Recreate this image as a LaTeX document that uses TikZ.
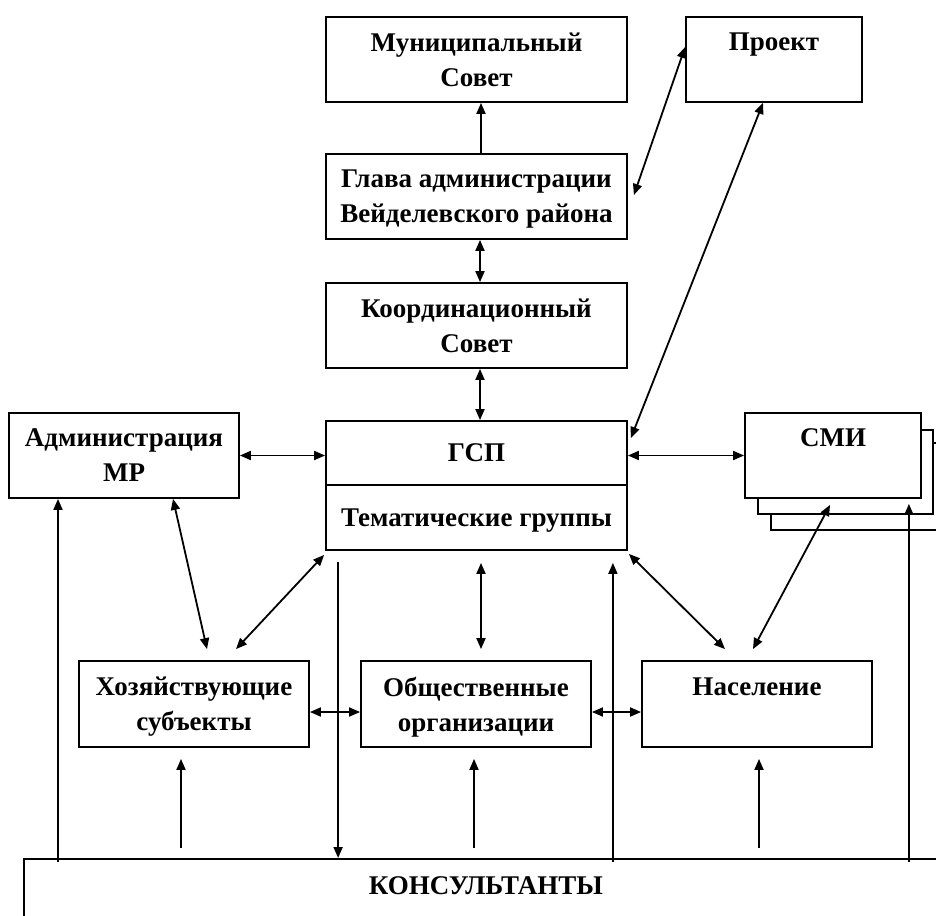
\documentclass[tikz,border=0pt]{standalone}
\usepackage{fontspec}
\setmainfont{Liberation Serif}
\usetikzlibrary{arrows.meta}
\begin{document}
\begin{tikzpicture}[x=1pt,y=-1pt,
  box/.style={draw, line width=1.8pt, fill=white, inner sep=0pt, align=center, text depth=0pt,
    font=\bfseries\fontsize{27}{35}\selectfont},
  back/.style={draw, line width=1.8pt, fill=white},
  con/.style={line width=1.8pt, -{Triangle[length=11pt,width=9pt]}},
  dcon/.style={line width=1.8pt, {Triangle[length=11pt,width=9pt]}-{Triangle[length=11pt,width=9pt]}}]
\useasboundingbox (0,0) rectangle (936,915);

% boxes
\node[box, minimum width=301pt, minimum height=85pt] (mun) at (476.5,59.5) {Муниципальный\\Совет};
\node[box, minimum width=176pt, minimum height=85pt, text depth=-5pt] (proekt) at (774,59.5) {Проект\\\strut};
\node[box, minimum width=301pt, minimum height=85pt] (glava) at (476.5,196.5) {Глава администрации\\Вейделевского района};
\node[box, minimum width=301pt, minimum height=85pt] (koord) at (476.5,325.5) {Координационный\\Совет};
\node[box, minimum width=301pt, minimum height=64pt] (gsp) at (476.5,453) {ГСП};
\node[box, minimum width=301pt, minimum height=65pt] (tg) at (476.5,517.5) {Тематические группы};
\node[box, minimum width=230pt, minimum height=85pt] (admin) at (124,455.5) {Администрация\\МР};

\draw[back] (771,443) rectangle (960,530);
\draw[back] (758,430) rectangle (933,514);
\node[box, minimum width=176pt, minimum height=85pt] (smi) at (833,455.5) {СМИ\\\strut};

\node[box, minimum width=230pt, minimum height=86pt] (hoz) at (194,704) {Хозяйствующие\\субъекты};
\node[box, minimum width=230pt, minimum height=86pt] (obsh) at (476,704) {Общественные\\организации};
\node[box, minimum width=230pt, minimum height=86pt] (nas) at (757,704) {Население\\\strut};

\node[box, anchor=north west, text width=924pt, inner xsep=0pt, inner ysep=18pt, text depth=70pt] (kons) at (23,858) {КОНСУЛЬТАНТЫ};

% connectors
\draw[con] ([xshift=4.5pt]glava.north) -- ([xshift=4.5pt]mun.south);
\draw[dcon] ([xshift=6pt,yshift=1.5pt]glava.east) -- ([yshift=12.5pt]proekt.west);
\draw[dcon] ([xshift=-11pt]proekt.south) -- ([xshift=3pt,yshift=15pt]gsp.east);
\draw[dcon] ([xshift=3.5pt]glava.south) -- ([xshift=3.5pt]koord.north);
\draw[dcon] ([xshift=3.5pt]koord.south) -- ([xshift=3.5pt]gsp.north);
\draw[dcon] (admin.east) -- (admin.east -| gsp.west);
\draw[dcon] (gsp.east |- smi.west) -- (smi.west);
\draw[dcon] ([xshift=49pt]admin.south) -- ([xshift=13pt,yshift=11pt]hoz.north);
\draw[dcon] ([xshift=-1pt,yshift=-4pt]tg.south west) -- ([xshift=42pt,yshift=11pt]hoz.north);
\draw[dcon] ([xshift=4.5pt,yshift=-12pt]tg.south) -- ([xshift=5pt,yshift=11pt]obsh.north);
\draw[dcon] ([xshift=1pt,yshift=-3pt]tg.south east) -- ([xshift=-32pt,yshift=11pt]nas.north);
\draw[dcon] ([xshift=-3pt,yshift=-6pt]smi.south) -- ([xshift=-4pt,yshift=11pt]nas.north);
\draw[dcon] ([yshift=-8pt]hoz.east) -- ([yshift=-8pt]obsh.west);
\draw[dcon] ([yshift=-8pt]obsh.east) -- ([yshift=-8pt]nas.west);

% lines to and from the consultants
\path (admin.south) ++(-66,0) coordinate (a1);
\draw[con] (a1 |- kons.north) ++(0,4) -- (a1);
\path (tg.south west) ++(13,11) coordinate (t1);
\draw[con] (t1) -- (t1 |- kons.north);
\path (tg.south east) ++(-15,12) coordinate (t2);
\draw[con] (t2 |- kons.north) ++(0,4) -- (t2);
\path (smi.south east) ++(-13,5) coordinate (s1);
\draw[con] (s1 |- kons.north) ++(0,4) -- (s1);
\path (hoz.south) ++(-13,11) coordinate (h1);
\draw[con] (h1 |- kons.north) ++(0,-10) -- (h1);
\path (obsh.south) ++(-2,11) coordinate (o1);
\draw[con] (o1 |- kons.north) ++(0,-10) -- (o1);
\path (nas.south) ++(2,11) coordinate (n1);
\draw[con] (n1 |- kons.north) ++(0,-10) -- (n1);
\end{tikzpicture}
\end{document}
